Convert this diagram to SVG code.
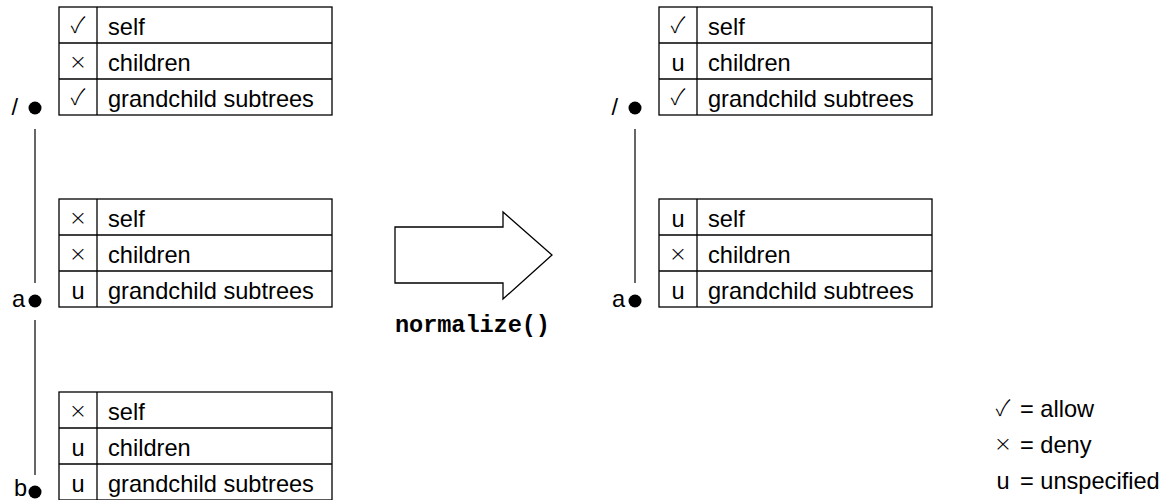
<svg xmlns="http://www.w3.org/2000/svg" width="1176" height="500" viewBox="0 0 1176 500">
  <style>
    .cell { fill: #fff; stroke: #000; stroke-width: 1.3; }
    .rule { stroke: #000; stroke-width: 1.3; fill: none; }
    .txt { font-family: "Liberation Sans", Arial, sans-serif; font-size: 23.6px; fill: #000; }
    .sym { font-family: "Liberation Sans", Arial, sans-serif; font-size: 23.6px; fill: #000; text-anchor: middle; }
    .chk { font-family: "Noto Sans CJK JP", "DejaVu Sans", sans-serif; font-weight: 300; font-size: 22px; fill: #000; text-anchor: middle; }
    .x { font-family: "DejaVu Sans", sans-serif; font-weight: 200; font-size: 22px; fill: #000; text-anchor: middle; }
    .lbl { font-family: "Liberation Sans", Arial, sans-serif; font-size: 23.6px; fill: #000; text-anchor: end; }
    .code { font-family: "Liberation Mono", "Courier New", monospace; font-weight: bold; font-size: 23.6px; fill: #000; }
    .link { stroke: #000; stroke-width: 1.2; }
  </style>
  <defs>
    <!-- one permission table: three rows of 36px, symbol column + description column -->
    <g id="table">
      <rect class="cell" x="0" y="0" width="273" height="108"/>
      <line class="rule" x1="0" y1="36" x2="273" y2="36"/>
      <line class="rule" x1="0" y1="72" x2="273" y2="72"/>
      <line class="rule" x1="38" y1="0" x2="38" y2="108"/>
      <text class="txt" x="49" y="28">self</text>
      <text class="txt" x="49" y="64">children</text>
      <text class="txt" x="49" y="100">grandchild subtrees</text>
    </g>
  </defs>

  <!-- tree edges -->
  <g id="connectors">
    <line class="link" x1="35" y1="129" x2="35" y2="283"/>
    <line class="link" x1="35" y1="320" x2="35" y2="475"/>
    <line class="link" x1="635" y1="129" x2="635" y2="283"/>
  </g>

  <!-- left tree: before -->
  <g id="node-root-before">
    <use href="#table" x="59" y="7"/>
    <text class="chk" x="78" y="33">✓</text>
    <text class="x" x="78" y="33" dy="36">×</text>
    <text class="chk" x="78" y="105">✓</text>
    <circle cx="35" cy="108" r="6.5"/>
    <text class="lbl" x="18" y="115">/</text>
  </g>
  <g id="node-a-before">
    <use href="#table" x="59" y="199"/>
    <text class="x" x="78" y="225">×</text>
    <text class="x" x="78" y="261">×</text>
    <text class="sym" x="78" y="299">u</text>
    <circle cx="35" cy="301" r="6.5"/>
    <text class="lbl" x="25" y="307">a</text>
  </g>
  <g id="node-b-before">
    <use href="#table" x="59" y="392"/>
    <text class="x" x="78" y="418">×</text>
    <text class="sym" x="78" y="456">u</text>
    <text class="sym" x="78" y="492">u</text>
    <circle cx="35" cy="492" r="6.5"/>
    <text class="lbl" x="27" y="496">b</text>
  </g>

  <!-- transformation arrow -->
  <g id="normalize">
    <polygon class="rule" points="395,227 503,227 503,212 552,255 503,299 503,283 395,283"/>
    <text class="code" x="395" y="332" textLength="155">normalize()</text>
  </g>

  <!-- right tree: after -->
  <g id="node-root-after">
    <use href="#table" x="659" y="7"/>
    <text class="chk" x="678" y="33">✓</text>
    <text class="sym" x="678" y="71">u</text>
    <text class="chk" x="678" y="105">✓</text>
    <circle cx="635" cy="108" r="6.5"/>
    <text class="lbl" x="618" y="115">/</text>
  </g>
  <g id="node-a-after">
    <use href="#table" x="659" y="199"/>
    <text class="sym" x="678" y="227">u</text>
    <text class="x" x="678" y="261">×</text>
    <text class="sym" x="678" y="299">u</text>
    <circle cx="635" cy="301" r="6.5"/>
    <text class="lbl" x="625" y="307">a</text>
  </g>

  <!-- legend -->
  <g id="legend">
    <text class="chk" x="1003" y="416">✓</text>
    <text class="txt" x="1020" y="417">= allow</text>
    <text class="x" x="1003" y="451">×</text>
    <text class="txt" x="1020" y="453">= deny</text>
    <text class="sym" x="1003" y="489">u</text>
    <text class="txt" x="1020" y="489">= unspecified</text>
  </g>
</svg>
